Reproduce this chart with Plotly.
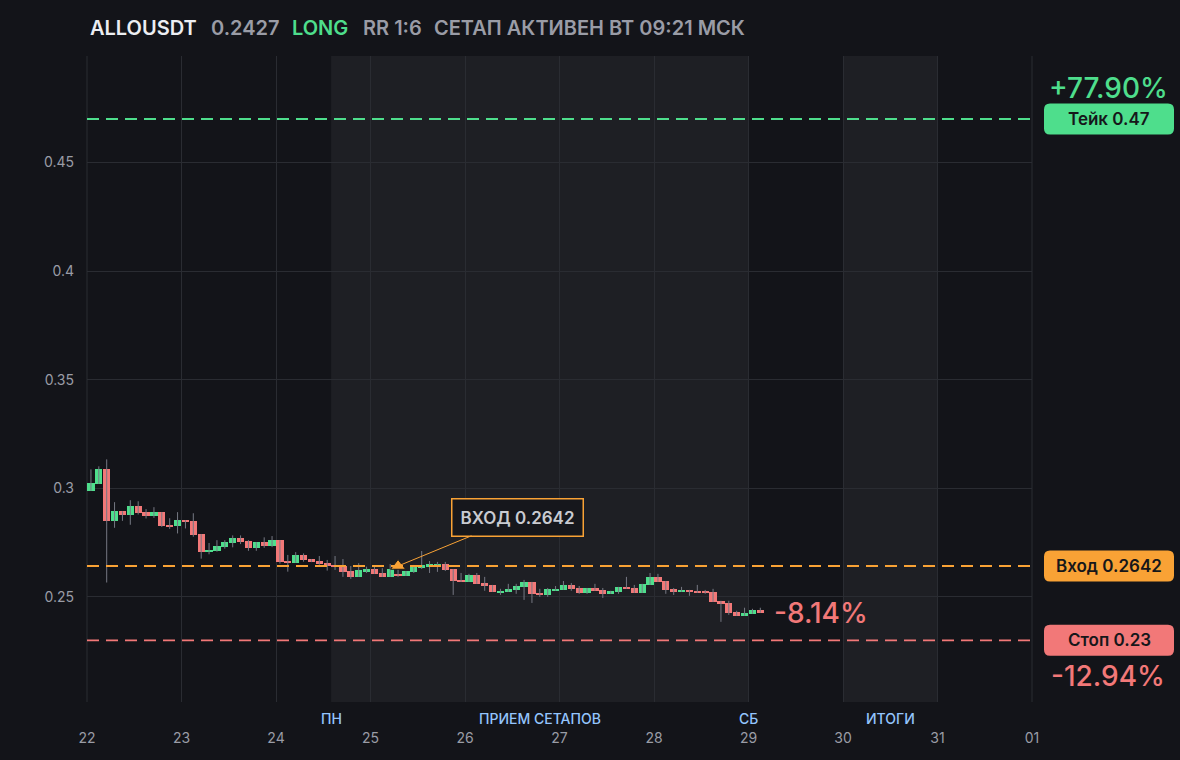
import numpy as np
import pandas as pd
import plotly.graph_objects as go

# 2h candles, ALLOUSDT
candle_start = "2025-08-22 00:00"
open_ = [0.2988, 0.3020, 0.3087, 0.2850, 0.2894, 0.2876, 0.2917, 0.2890, 0.2873, 0.2890,
         0.2832, 0.2827, 0.2853, 0.2849, 0.2789, 0.2708, 0.2711, 0.2729, 0.2748, 0.2771,
         0.2757, 0.2725, 0.2752, 0.2734, 0.2761, 0.2665, 0.2657, 0.2691, 0.2674, 0.2665,
         0.2656, 0.2647, 0.2642, 0.2619, 0.2592, 0.2619, 0.2628, 0.2610, 0.2592, 0.2606,
         0.2596, 0.2615, 0.2633, 0.2638, 0.2642, 0.2651, 0.2628, 0.2578, 0.2569, 0.2601,
         0.2564, 0.2555, 0.2518, 0.2523, 0.2532, 0.2546, 0.2569, 0.2518, 0.2509, 0.2528,
         0.2532, 0.2555, 0.2541, 0.2518, 0.2541, 0.2532, 0.2514, 0.2523, 0.2546, 0.2541,
         0.2518, 0.2555, 0.2592, 0.2573, 0.2537, 0.2523, 0.2532, 0.2528, 0.2528, 0.2523,
         0.2482, 0.2472, 0.2431, 0.2413, 0.2422, 0.2440]
high = [0.3087, 0.3101, 0.3133, 0.2936, 0.2894, 0.2945, 0.2940, 0.2904, 0.2913, 0.2890,
        0.2862, 0.2890, 0.2853, 0.2885, 0.2789, 0.2748, 0.2761, 0.2761, 0.2783, 0.2783,
        0.2761, 0.2752, 0.2774, 0.2780, 0.2761, 0.2693, 0.2706, 0.2700, 0.2674, 0.2688,
        0.2670, 0.2688, 0.2674, 0.2642, 0.2655, 0.2639, 0.2642, 0.2632, 0.2651, 0.2642,
        0.2619, 0.2647, 0.2711, 0.2665, 0.2661, 0.2661, 0.2628, 0.2610, 0.2606, 0.2610,
        0.2592, 0.2555, 0.2537, 0.2560, 0.2560, 0.2578, 0.2569, 0.2537, 0.2541, 0.2550,
        0.2573, 0.2564, 0.2550, 0.2541, 0.2560, 0.2541, 0.2528, 0.2546, 0.2592, 0.2555,
        0.2560, 0.2610, 0.2606, 0.2573, 0.2541, 0.2546, 0.2532, 0.2555, 0.2532, 0.2537,
        0.2482, 0.2482, 0.2436, 0.2450, 0.2445, 0.2450]
low = [0.2988, 0.3020, 0.2566, 0.2818, 0.2850, 0.2832, 0.2879, 0.2861, 0.2864, 0.2822,
       0.2813, 0.2792, 0.2815, 0.2777, 0.2676, 0.2696, 0.2708, 0.2722, 0.2728, 0.2743,
       0.2712, 0.2712, 0.2726, 0.2729, 0.2653, 0.2616, 0.2657, 0.2662, 0.2660, 0.2648,
       0.2621, 0.2624, 0.2592, 0.2583, 0.2592, 0.2610, 0.2606, 0.2592, 0.2592, 0.2592,
       0.2596, 0.2610, 0.2628, 0.2610, 0.2615, 0.2619, 0.2509, 0.2569, 0.2569, 0.2560,
       0.2528, 0.2523, 0.2509, 0.2523, 0.2514, 0.2486, 0.2472, 0.2500, 0.2500, 0.2528,
       0.2532, 0.2528, 0.2514, 0.2514, 0.2528, 0.2495, 0.2514, 0.2514, 0.2537, 0.2518,
       0.2518, 0.2555, 0.2569, 0.2514, 0.2509, 0.2523, 0.2505, 0.2518, 0.2514, 0.2477,
       0.2385, 0.2417, 0.2413, 0.2413, 0.2422, 0.2427]
close = [0.3023, 0.3087, 0.2850, 0.2894, 0.2876, 0.2917, 0.2887, 0.2873, 0.2890, 0.2827,
         0.2822, 0.2853, 0.2845, 0.2786, 0.2708, 0.2716, 0.2734, 0.2752, 0.2771, 0.2752,
         0.2725, 0.2752, 0.2734, 0.2761, 0.2662, 0.2657, 0.2691, 0.2670, 0.2662, 0.2651,
         0.2642, 0.2640, 0.2615, 0.2592, 0.2624, 0.2628, 0.2606, 0.2592, 0.2628, 0.2599,
         0.2619, 0.2647, 0.2647, 0.2651, 0.2651, 0.2624, 0.2573, 0.2569, 0.2601, 0.2560,
         0.2550, 0.2523, 0.2528, 0.2537, 0.2550, 0.2569, 0.2514, 0.2509, 0.2537, 0.2537,
         0.2555, 0.2537, 0.2518, 0.2541, 0.2528, 0.2514, 0.2528, 0.2546, 0.2537, 0.2518,
         0.2560, 0.2592, 0.2569, 0.2532, 0.2523, 0.2532, 0.2523, 0.2518, 0.2518, 0.2477,
         0.2468, 0.2427, 0.2413, 0.2427, 0.2440, 0.2427]

symbol = "ALLOUSDT"
side = "LONG"
rr = "RR 1:6"
status = "СЕТАП АКТИВЕН ВТ 09:21 МСК"
take = 0.47
entry = 0.2642
stop = 0.23
entry_candle = 39  # index of entry candle

sessions = [("2025-08-24 14:00", "2025-08-29 00:00"), ("2025-08-30 00:00", "2025-08-31 00:00")]
session_labels = [("ПН", "2025-08-24 14:00"), ("ПРИЕМ СЕТАПОВ", "2025-08-26 19:00"),
                  ("СБ", "2025-08-29 00:00"), ("ИТОГИ", "2025-08-30 12:00")]

# colours
BG = "#131419"
SHADE = "#1e1f24"
GRID = "#2a2c32"
GREEN = "#4ede8c"
RED = "#f27878"
ORANGE = "#f9a235"
GRAY = "#9a9ca6"
FONT = "Inter"

times = pd.date_range(candle_start, periods=len(close), freq="2h")
mid = times + pd.Timedelta(hours=1)
o, h, l, c = map(np.array, (open_, high, low, close))
up = c >= o
body_base = np.minimum(o, c)
body_h = np.maximum(np.abs(c - o), 0.0003)
last = close[-1]

fig = go.Figure()

# wicks
wx, wy = [], []
for t, hi, lo in zip(mid, h, l):
    wx += [t, t, None]
    wy += [lo, hi, None]
fig.add_trace(go.Scatter(x=wx, y=wy, mode="lines", line=dict(color="#767883", width=1),
                         hoverinfo="skip", showlegend=False))
# bodies
fig.add_trace(go.Bar(x=mid, y=body_h, base=body_base, width=2 * 3600 * 1000 * 0.92,
                     marker=dict(color=np.where(up, GREEN, RED).tolist(), line=dict(width=0)),
                     showlegend=False))
# entry marker
fig.add_trace(go.Scatter(x=[mid[entry_candle]], y=[entry], mode="markers",
                         marker=dict(symbol="triangle-up", size=13, color=ORANGE,
                                     line=dict(color="#1a1a1a", width=1)),
                         showlegend=False))

shapes = []
for x0, x1 in sessions:
    shapes.append(dict(type="rect", xref="x", yref="paper", x0=x0, x1=x1, y0=0, y1=1,
                       fillcolor=SHADE, line=dict(width=0), layer="below"))
# edge grid lines (plotly drops gridlines on the range ends)
for xe in (0, 1):
    shapes.append(dict(type="line", xref="paper", yref="paper", x0=xe, x1=xe, y0=0, y1=1,
                       line=dict(color=GRID, width=1), layer="below"))
for lvl, col in [(take, GREEN), (entry, ORANGE), (stop, RED)]:
    shapes.append(dict(type="line", xref="paper", yref="y", x0=0, x1=1, y0=lvl, y1=lvl,
                       line=dict(color=col, width=1.8, dash="12px,7px")))


def pill(level, col, x0=12, x1=142, hh=15.5, r=6):
    y0, y1 = -hh, hh
    path = (f"M {x0+r},{y0} L {x1-r},{y0} Q {x1},{y0} {x1},{y0+r} L {x1},{y1-r} "
            f"Q {x1},{y1} {x1-r},{y1} L {x0+r},{y1} Q {x0},{y1} {x0},{y1-r} "
            f"L {x0},{y0+r} Q {x0},{y0} {x0+r},{y0} Z")
    return dict(type="path", xref="paper", yref="y", xsizemode="pixel", ysizemode="pixel",
                xanchor=1, yanchor=level, path=path, fillcolor=col, line=dict(width=0))


shapes += [pill(take, GREEN), pill(entry, ORANGE), pill(stop, RED)]

ann = []
# header
parts = [(symbol, "#eceef2", 1), (f"{last:.4f}", GRAY, 122), (side, GREEN, 203),
         (rr, GRAY, 274), (status, GRAY, 345)]
for txt, col, dx in parts:
    ann.append(dict(text=txt, xref="paper", yref="paper", x=0, y=1, xanchor="left",
                    yanchor="middle", xshift=dx, yshift=28, showarrow=False,
                    font=dict(family=FONT, size=20, color=col, weight=600)))
# right side level labels
for lvl, lab in [(take, f"Тейк {take:g}"), (entry, f"Вход {entry:g}"), (stop, f"Стоп {stop:g}")]:
    ann.append(dict(text=lab, xref="paper", yref="y", x=1, y=lvl, xanchor="center",
                    yanchor="middle", xshift=77, showarrow=False,
                    font=dict(family=FONT, size=17, color="#16171a", weight=600)))
pct_font = dict(family=FONT, size=28, weight=500)
ann.append(dict(text=f"+{(take / entry - 1) * 100:.2f}%", xref="paper", yref="y", x=1, y=take,
                xanchor="center", yanchor="middle", xshift=76, yshift=31, showarrow=False,
                font=dict(pct_font, color=GREEN)))
ann.append(dict(text=f"{(stop / entry - 1) * 100:.2f}%", xref="paper", yref="y", x=1, y=stop,
                xanchor="center", yanchor="middle", xshift=76, yshift=-36, showarrow=False,
                font=dict(pct_font, color=RED)))
ann.append(dict(text=f"{(last / entry - 1) * 100:.2f}%", xref="x", yref="y", x=mid[-1], y=last,
                xanchor="left", yanchor="middle", xshift=12, showarrow=False,
                font=dict(pct_font, color=RED)))
# entry callout
ann.append(dict(text=f"ВХОД {entry:g}", xref="x", yref="y", x=mid[entry_candle], y=entry,
                ax=119, ay=-49, showarrow=True, arrowhead=0, arrowwidth=1, arrowcolor=ORANGE,
                bgcolor="#16171c", bordercolor=ORANGE, borderwidth=1.5, borderpad=8,
                font=dict(family=FONT, size=17, color="#c9cbd1", weight=600)))
# session labels under the axis
for txt, t in session_labels:
    ann.append(dict(text=txt, xref="x", yref="paper", x=t, y=0, yanchor="top", yshift=-6,
                    showarrow=False, font=dict(family=FONT, size=14, color="#93c5fd", weight=500)))

fig.update_layout(
    width=1180, height=760,
    paper_bgcolor=BG, plot_bgcolor=BG,
    margin=dict(l=87, r=148, t=56, b=58),
    bargap=0, showlegend=False,
    shapes=shapes, annotations=ann,
    font=dict(family=FONT, color=GRAY),
)
fig.update_xaxes(type="date", range=["2025-08-22", "2025-09-01"], dtick=86400000,
                 tickformat="%d", showgrid=True, gridcolor=GRID, gridwidth=1, zeroline=False,
                 showline=False, ticklabelstandoff=26, tickfont=dict(size=14, color=GRAY))
fig.update_yaxes(range=[0.2016, 0.4990], dtick=0.05, tick0=0.25, showgrid=True, gridcolor=GRID,
                 zeroline=False, showline=False, ticklabelstandoff=12,
                 tickfont=dict(size=14, color=GRAY))

fig.write_html("out.html", config={"displayModeBar": False},
               post_script="document.body.style.margin='0';document.body.style.background='%s';" % BG)
